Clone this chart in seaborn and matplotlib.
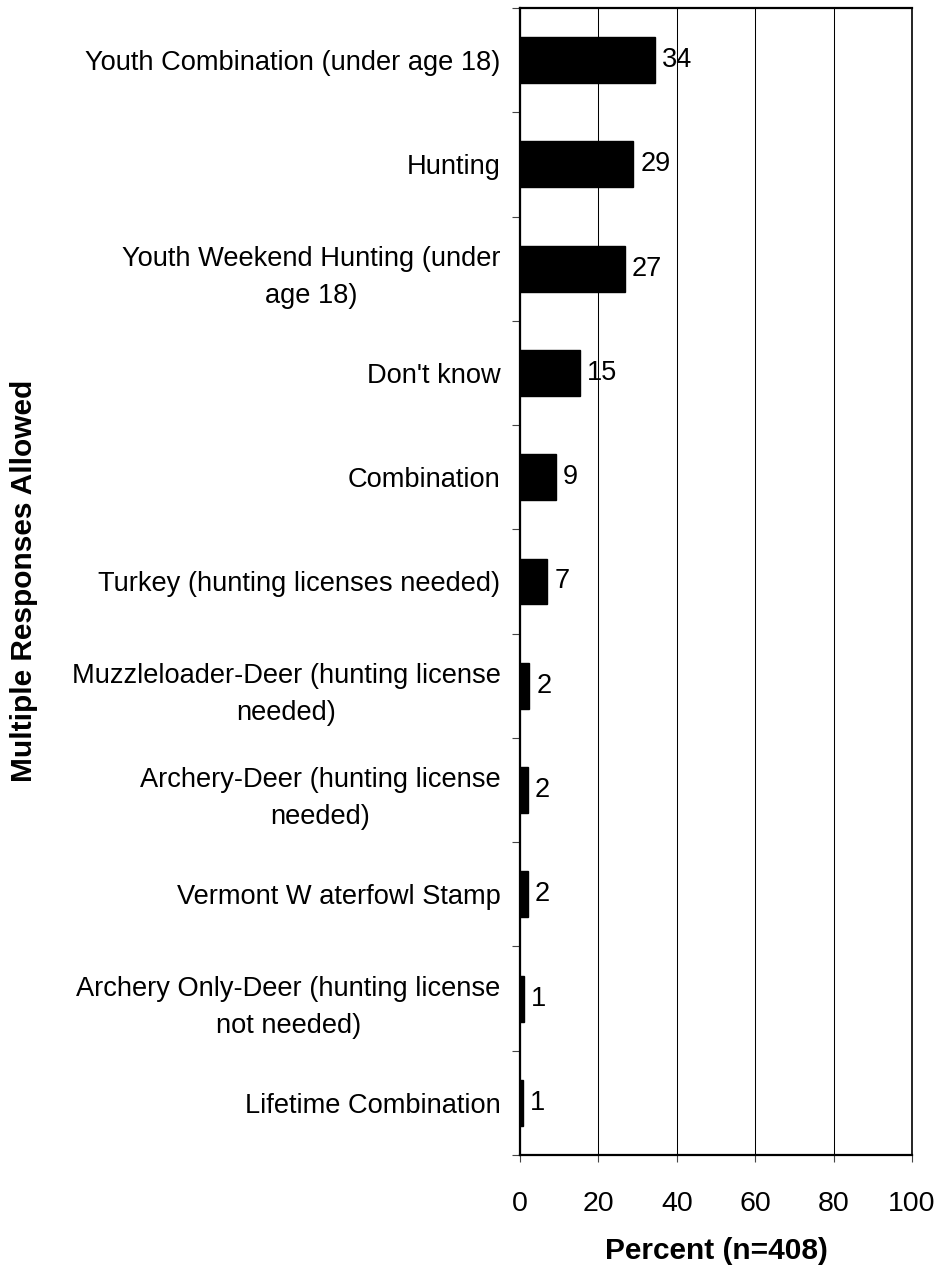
import matplotlib
matplotlib.use("Agg")
import matplotlib.pyplot as plt
import seaborn as sns
import pandas as pd
import numpy as np

categories = [
    "Youth Combination (under age 18)",
    "Hunting",
    "Youth Weekend Hunting (under\nage 18)",
    "Don't know",
    "Combination",
    "Turkey (hunting licenses needed)",
    "Muzzleloader-Deer (hunting license\nneeded)",
    "Archery-Deer (hunting license\nneeded)",
    "Vermont W aterfowl Stamp",
    "Archery Only-Deer (hunting license\nnot needed)",
    "Lifetime Combination",
]
percent = [34.4, 28.9, 26.8, 15.4, 9.2, 7.0, 2.4, 2.0, 2.0, 0.9, 0.8]
x_ticks = [0, 20, 40, 60, 80, 100]

sns.set_theme(style="white")
plt.rcParams["font.family"] = ["Liberation Sans", "DejaVu Sans"]
plt.rcParams["text.color"] = "black"
plt.rcParams["xtick.color"] = "black"
plt.rcParams["ytick.color"] = "black"
plt.rcParams["xtick.labelcolor"] = "black"
plt.rcParams["ytick.labelcolor"] = "black"

df = pd.DataFrame({"category": categories, "percent": percent})

fig = plt.figure(figsize=(9.37, 12.66), dpi=100)
ax = fig.add_axes([520 / 937, 1 - 1155 / 1266, 392 / 937, 1147 / 1266])

sns.barplot(data=df, x="percent", y="category", orient="h", color="black",
            edgecolor="black", width=0.44, saturation=1, ax=ax, zorder=3)

n = len(categories)
ax.set_xlim(0, 100)
ax.set_ylim(n - 0.5, -0.5)

# vertical gridlines
ax.set_xticks(x_ticks)
ax.set_xticklabels([str(t) for t in x_ticks], fontsize=20.5, color="black")
ax.xaxis.grid(True, color="black", linewidth=0.75, zorder=0)
ax.yaxis.grid(False)
ax.tick_params(axis="x", direction="out", length=5, width=0.8, color="#444444",
               pad=21, bottom=True)

# category labels at bar centres, ticks at category boundaries
ax.set_yticks(np.arange(n))
ax.set_yticklabels(categories, fontsize=19.6, multialignment="center",
                   color="black", linespacing=1.55)
ax.tick_params(axis="y", which="major", length=0, pad=14)
ax.set_yticks(np.arange(n + 1) - 0.5, minor=True)
ax.tick_params(axis="y", which="minor", direction="out", length=6, width=0.8,
               color="#444444", left=True)

for s in ["left", "bottom", "top"]:
    ax.spines[s].set_color("black")
    ax.spines[s].set_linewidth(1.6)
ax.spines["right"].set_color("black")
ax.spines["right"].set_linewidth(1.2)

ax.set_xlabel("")
ax.set_ylabel("")

# value labels
for i, v in enumerate(percent):
    ax.annotate(f"{v:.0f}", xy=(v, i), xytext=(5, 0), textcoords="offset points",
                ha="left", va="center", fontsize=19.5, color="black", zorder=4)

fig.text(716 / 937, 1 - 1251 / 1266, "Percent (n=408)", ha="center",
         va="center", fontsize=21.5, fontweight="bold", color="black")
fig.text(24 / 937, 1 - 581 / 1266, "Multiple Responses Allowed", ha="center",
         va="center", rotation=90, fontsize=21.5, fontweight="bold",
         color="black")

fig.savefig("out.png", dpi=100, facecolor="white")
